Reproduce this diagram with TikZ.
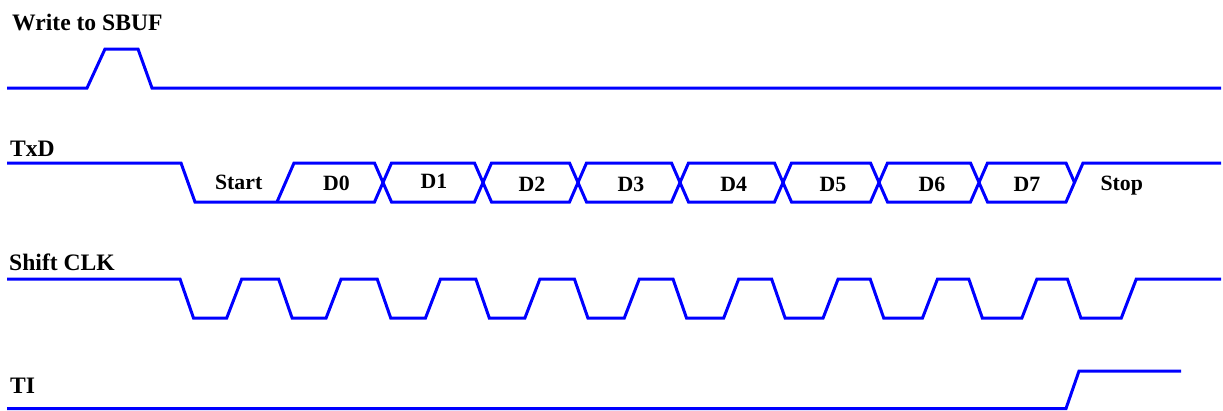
\documentclass[tikz,border=0pt]{standalone}
\usepackage{fontspec}
\setmainfont{Liberation Serif}
\usetikzlibrary{positioning}

\begin{document}
\begin{tikzpicture}[x=1pt,y=-1pt,every node/.style={inner sep=0pt},
    sig/.style={blue,line width=3pt},
    signame/.style={anchor=base west,font=\fontsize{23.6}{26}\selectfont\bfseries},
    lbl/.style={anchor=base,font=\fontsize{21.8}{24}\selectfont\bfseries}]
  \useasboundingbox (0,0) rectangle (1223,410);
  % signal names
  \node[signame] at (12,30)  (wr)  {Write to SBUF};
  \node[signame] at (10,156) (txd) {TxD};
  \node[signame] at (9,270)  (clk) {Shift CLK};
  \node[signame] at (10,393) (ti)  {TI};
  % write pulse
  \draw[sig] (7,88) -- (87,88) -- (105,49) -- (138,49) -- (152,88) -- (1221,88);
  % TxD: start bit and D0
  \draw[sig] (7,163) -- (181,163) -- (195,202) -- (374.5,202) -- (383,182.5);
  \draw[sig] (277,202) -- (294,163) -- (374.5,163) -- (383,182.5);
  % D1..D6
  \foreach \a/\b in {383/483,483/578,578/680,680/783,783/879,879/979}
    \draw[sig] (\a,182.5) -- (\a+8.5,163) -- (\b-8.5,163) -- (\b,182.5)
      -- (\b-8.5,202) -- (\a+8.5,202) -- cycle;
  % D7 and stop bit
  \draw[sig] (979,182.5) -- (987.5,163) -- (1066,163) -- (1074.5,182.5);
  \draw[sig] (979,182.5) -- (987.5,202) -- (1066,202) -- (1083,163) -- (1221,163);
  \foreach \t/\x/\y [count=\i] in {Start/238.7/189,D0/336.5/190,D1/434/188.5,
      D2/532/191.5,D3/631/191.5,D4/733.7/191.5,D5/833/191.5,D6/932/191.5,
      D7/1027/191.5,Stop/1121.8/190}
    \node[lbl] at (\x,\y) (b\i) {\t};
  % shift clock
  \draw[sig] (7,279) \foreach \k in {0,...,9} {
      -- ({180+98.6*\k},279) -- ({193.5+98.6*\k},318)
      -- ({226.7+99.4*\k},318) -- ({241.7+99.4*\k},279) } -- (1221,279);
  % TI
  \draw[sig] (7,408.5) -- (1066,408.5) -- (1079,371) -- (1181,371);
\end{tikzpicture}
\end{document}
